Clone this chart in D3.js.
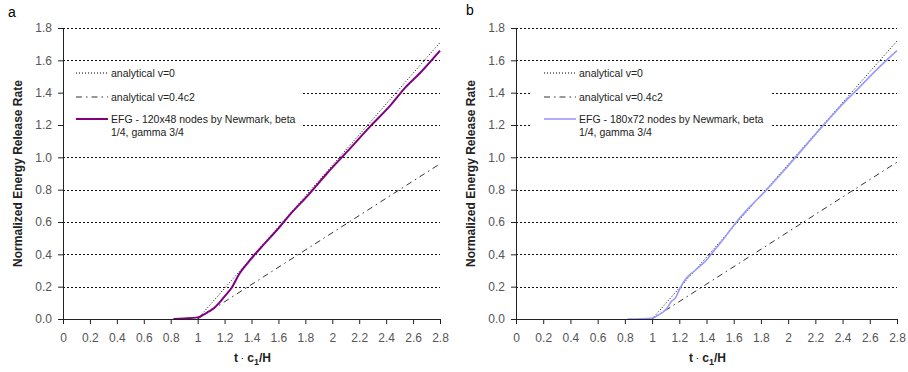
<!DOCTYPE html>
<html>
<head>
<meta charset="utf-8">
<script src="https://cdn.jsdelivr.net/npm/d3@7"></script>
<style>
  body { margin: 0; background: #fff; }
  svg { display: block; font-family: "Liberation Sans", Arial, sans-serif; }
</style>
</head>
<body>
<svg id="chart" width="908" height="372"></svg>
<script>
// values
const xTicks = [0, 0.2, 0.4, 0.6, 0.8, 1, 1.2, 1.4, 1.6, 1.8, 2, 2.2, 2.4, 2.6, 2.8];
const yTicks = [0, 0.2, 0.4, 0.6, 0.8, 1.0, 1.2, 1.4, 1.6, 1.8];

// analytical curves
const analyticV0A = [[1.0, 0], [2.8, 1.71]];
const analyticV04A = [[1.0, 0], [2.8, 0.96]];
const analyticV0B = [[1.0, 0], [2.8, 1.72]];
const analyticV04B = [[1.0, 0], [2.8, 0.97]];

// EFG 120x48 (panel a)
const efgAx = [0.82, 0.9, 1.0, 1.04, 1.08, 1.12, 1.16, 1.2, 1.25, 1.31, 1.38, 1.41, 1.49, 1.61, 1.69, 1.82, 1.96, 2.11, 2.28, 2.43, 2.54, 2.65, 2.8];
const efgAy = [0, 0.003, 0.01, 0.025, 0.045, 0.066, 0.1, 0.14, 0.19, 0.28, 0.355, 0.385, 0.46, 0.57, 0.65, 0.765, 0.9, 1.035, 1.19, 1.32, 1.43, 1.52, 1.66];

// EFG 180x72 (panel b)
const efgBx = [0.82, 1.0, 1.046, 1.11, 1.14, 1.17, 1.205, 1.24, 1.315, 1.4, 1.44, 1.52, 1.62, 1.72, 1.82, 1.95, 2.075, 2.25, 2.39, 2.52, 2.66, 2.8];
const efgBy = [0, 0.005, 0.025, 0.066, 0.107, 0.128, 0.19, 0.24, 0.3, 0.365, 0.406, 0.49, 0.6, 0.695, 0.78, 0.9, 1.02, 1.19, 1.32, 1.43, 1.55, 1.66];

const legendV0 = "analytical v=0";
const legendV04 = "analytical v=0.4c2";

const panels = [
  { tag: "a", left: 63, width: 377, tagX: 8, tagY: 17, color: "#800080", lw: 2,
    xs: efgAx, ys: efgAy, v0: analyticV0A, v04: analyticV04A,
    efgLabel: ["EFG - 120x48 nodes by Newmark, beta", "1/4, gamma 3/4"], legX: 64 },
  { tag: "b", left: 516, width: 381, tagX: 466, tagY: 15, color: "#9a9aff", lw: 1.6,
    xs: efgBx, ys: efgBy, v0: analyticV0B, v04: analyticV04B,
    efgLabel: ["EFG - 180x72 nodes by Newmark, beta", "1/4, gamma 3/4"], legX: 532 }
];

const svg = d3.select("#chart");
const plotTop = 28, plotH = 291;

panels.forEach(p => {
  const x = d3.scaleLinear().domain([0, 2.8]).range([p.left, p.left + p.width]);
  const y = d3.scaleLinear().domain([0, 1.8]).range([plotTop + plotH, plotTop]);
  const g = svg.append("g");

  // grid
  g.append("g").selectAll("line")
    .data(yTicks.filter(d => d > 0))
    .enter().append("line")
    .attr("x1", p.left).attr("x2", p.left + p.width)
    .attr("y1", d => Math.round(y(d)) + 0.5).attr("y2", d => Math.round(y(d)) + 0.5)
    .attr("stroke", "#111").attr("stroke-width", 1)
    .attr("stroke-dasharray", "2,2");

  // legend box hides the grid behind it
  const leg = g.append("g");
  leg.append("rect")
    .attr("x", p.legX).attr("y", 63).attr("width", 239).attr("height", 78)
    .attr("fill", "#fff");

  // analytical lines
  const line = d3.line().x(d => x(d[0])).y(d => y(d[1]));
  g.append("path").datum(p.v0).attr("d", line)
    .attr("fill", "none").attr("stroke", "#000").attr("stroke-width", 1)
    .attr("stroke-dasharray", "1,2");
  g.append("path").datum(p.v04).attr("d", line)
    .attr("fill", "none").attr("stroke", "#333").attr("stroke-width", 1)
    .attr("stroke-dasharray", "6,4,1.5,4");

  // EFG result
  const pts = p.xs.map((v, i) => [v, p.ys[i]]);
  g.append("path").datum(pts)
    .attr("d", d3.line().curve(d3.curveMonotoneX).x(d => x(d[0])).y(d => y(d[1])))
    .attr("fill", "none").attr("stroke", p.color).attr("stroke-width", p.lw);

  // axes
  const xAxis = d3.axisBottom(x).tickValues(xTicks).tickSize(5).tickPadding(9)
    .tickFormat(d3.format("~g"));
  const yAxis = d3.axisLeft(y).tickValues(yTicks).tickSize(5).tickPadding(6)
    .tickFormat(d3.format(".1f"));

  const gx = g.append("g").attr("transform", `translate(0,${plotTop + plotH})`).call(xAxis);
  const gy = g.append("g").attr("transform", `translate(${p.left},0)`).call(yAxis);
  [gx, gy].forEach(ax => {
    ax.select(".domain").attr("stroke", "#222");
    ax.selectAll(".tick line").attr("stroke", "#222");
    ax.selectAll(".tick text").attr("fill", "#555")
      .style("font-size", "12px").style("font-family", "'Liberation Sans', Arial, sans-serif");
  });

  // axis titles
  g.append("text")
    .attr("transform", `translate(${p.left - 41},${plotTop + plotH / 2}) rotate(-90)`)
    .attr("text-anchor", "middle")
    .style("font-size", "12px").style("font-weight", "bold").attr("fill", "#222")
    .text("Normalized Energy Release Rate");

  const xt = g.append("text")
    .attr("x", p.left + p.width / 2 + 1).attr("y", 362)
    .attr("text-anchor", "middle")
    .style("font-size", "12px").style("font-weight", "bold").attr("fill", "#222");
  xt.append("tspan").text("t ");
  xt.append("tspan").style("font-size", "8px").attr("dy", -1).text("\u00b7");
  xt.append("tspan").attr("dy", 1).text(" c");
  xt.append("tspan").attr("dy", 3).style("font-size", "9px").text("1");
  xt.append("tspan").attr("dy", -3).text("/H");

  // panel letter
  svg.append("text").attr("x", p.tagX).attr("y", p.tagY)
    .style("font-size", "14px").attr("fill", "#000").text(p.tag);

  // legend entries
  const sx0 = p.legX + 12, sx1 = p.legX + 44, tx = p.legX + 47;
  const rows = [
    { y: 73, dash: "1,2", color: "#000", w: 1, text: [legendV0] },
    { y: 97, dash: "6,4,1.5,4", color: "#333", w: 1, text: [legendV04] },
    { y: 119, dash: null, color: p.color, w: p.lw, text: p.efgLabel }
  ];
  rows.forEach(r => {
    leg.append("line")
      .attr("x1", sx0).attr("x2", sx1).attr("y1", r.y).attr("y2", r.y)
      .attr("stroke", r.color).attr("stroke-width", r.w)
      .attr("stroke-dasharray", r.dash);
    r.text.forEach((t, i) => {
      leg.append("text").attr("x", tx).attr("y", r.y + 3.5 + i * 13)
        .style("font-size", "10.5px").attr("fill", "#222").text(t);
    });
  });
});
</script>
</body>
</html>
